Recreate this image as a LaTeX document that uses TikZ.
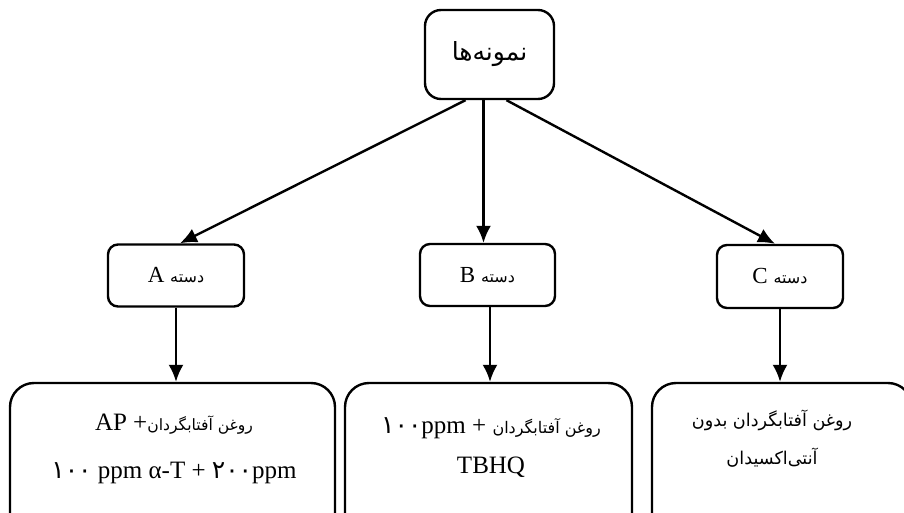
\documentclass[tikz,border=0pt]{standalone}
\usepackage{fontspec}
\setmainfont{Liberation Serif}
\newfontfamily\fa[Script=Arabic]{DejaVu Sans}
\TeXXeTstate=1
\usetikzlibrary{positioning,calc,arrows.meta}

\newcommand{\fatext}[2][8]{{\fa\fontsize{#1}{10}\selectfont\beginR #2\endR}}

\begin{document}
\begin{tikzpicture}
        [x=0.5pt,y=-0.5pt,>={Latex[length=8.5pt,width=7.5pt]},
         box/.style={draw,line width=1.2pt,inner sep=0pt},
         link/.style={->,line width=1.2pt},
         label/.style={align=center,font=\fontsize{11.5}{13}\selectfont}]

        \useasboundingbox (0,0) rectangle (904,513);
        \clip (0,0) rectangle (904,513);

        % top box
        \node[box,rounded corners=8pt,minimum width=64.5pt,minimum height=44.5pt,label] (samples) at (489.5,54.5)
            {{\fa\fontsize{12.5}{15}\selectfont\beginR نمونه‌ها\endR}};

        % groups
        \node[box,rounded corners=5pt,minimum width=68pt,minimum height=31pt,label] (grpA) at (176,275.5)
            {A\ \fatext{دسته}};
        \node[box,rounded corners=5pt,minimum width=67.5pt,minimum height=31pt,label] (grpB) at (487.5,275)
            {B\ \fatext{دسته}};
        \node[box,rounded corners=5pt,minimum width=63pt,minimum height=31.5pt,label] (grpC) at (780,276.5)
            {C\ \fatext{دسته}};

        % oil boxes
        \node[box,rounded corners=12pt,minimum width=162.5pt,minimum height=81pt] (oilA) at (172.5,464) {};
        \node[box,rounded corners=12pt,minimum width=143.5pt,minimum height=81pt] (oilB) at (488.5,464) {};
        \node[box,rounded corners=12pt,minimum width=130pt,minimum height=81pt] (oilC) at (782,464) {};

        \node[label,font=\fontsize{12.5}{24}\selectfont] (txtA) at (174,449)
            {AP\ +\fatext[7.8]{روغن آفتابگردان}\\
             {\fa ۱۰۰} ppm α-T + {\fa ۲۰۰}ppm};
        \node[label,font=\fontsize{12.5}{20}\selectfont] (txtB) at (491,448)
            {{\fa ۱۰۰}ppm + \fatext{روغن آفتابگردان}\\
             TBHQ};
        \node[label,font=\fontsize{11}{19}\selectfont] (txtC) at (772,439)
            {\fatext[8.8]{روغن آفتابگردان بدون}\\
             \fatext[8.8]{آنتی‌اکسیدان}};

        % arrows
        \draw[link] ($(samples.south)+(-24,0)$) -- ($(grpA.north)+(4,0)$);
        \draw[link] ($(samples.south)+(-6,0)$) -- ($(grpB.north)+(-4,0)$);
        \draw[link] ($(samples.south)+(17,0)$) -- ($(grpC.north)+(-5,0)$);
        \draw[link] (grpA.south) -- (grpA.south |- oilA.north);
        \draw[link] ($(grpB.south)+(2.5,0)$) -- ($(grpB.south |- oilB.north)+(2.5,0)$);
        \draw[link] (grpC.south) -- (grpC.south |- oilC.north);

\end{tikzpicture}
\end{document}
